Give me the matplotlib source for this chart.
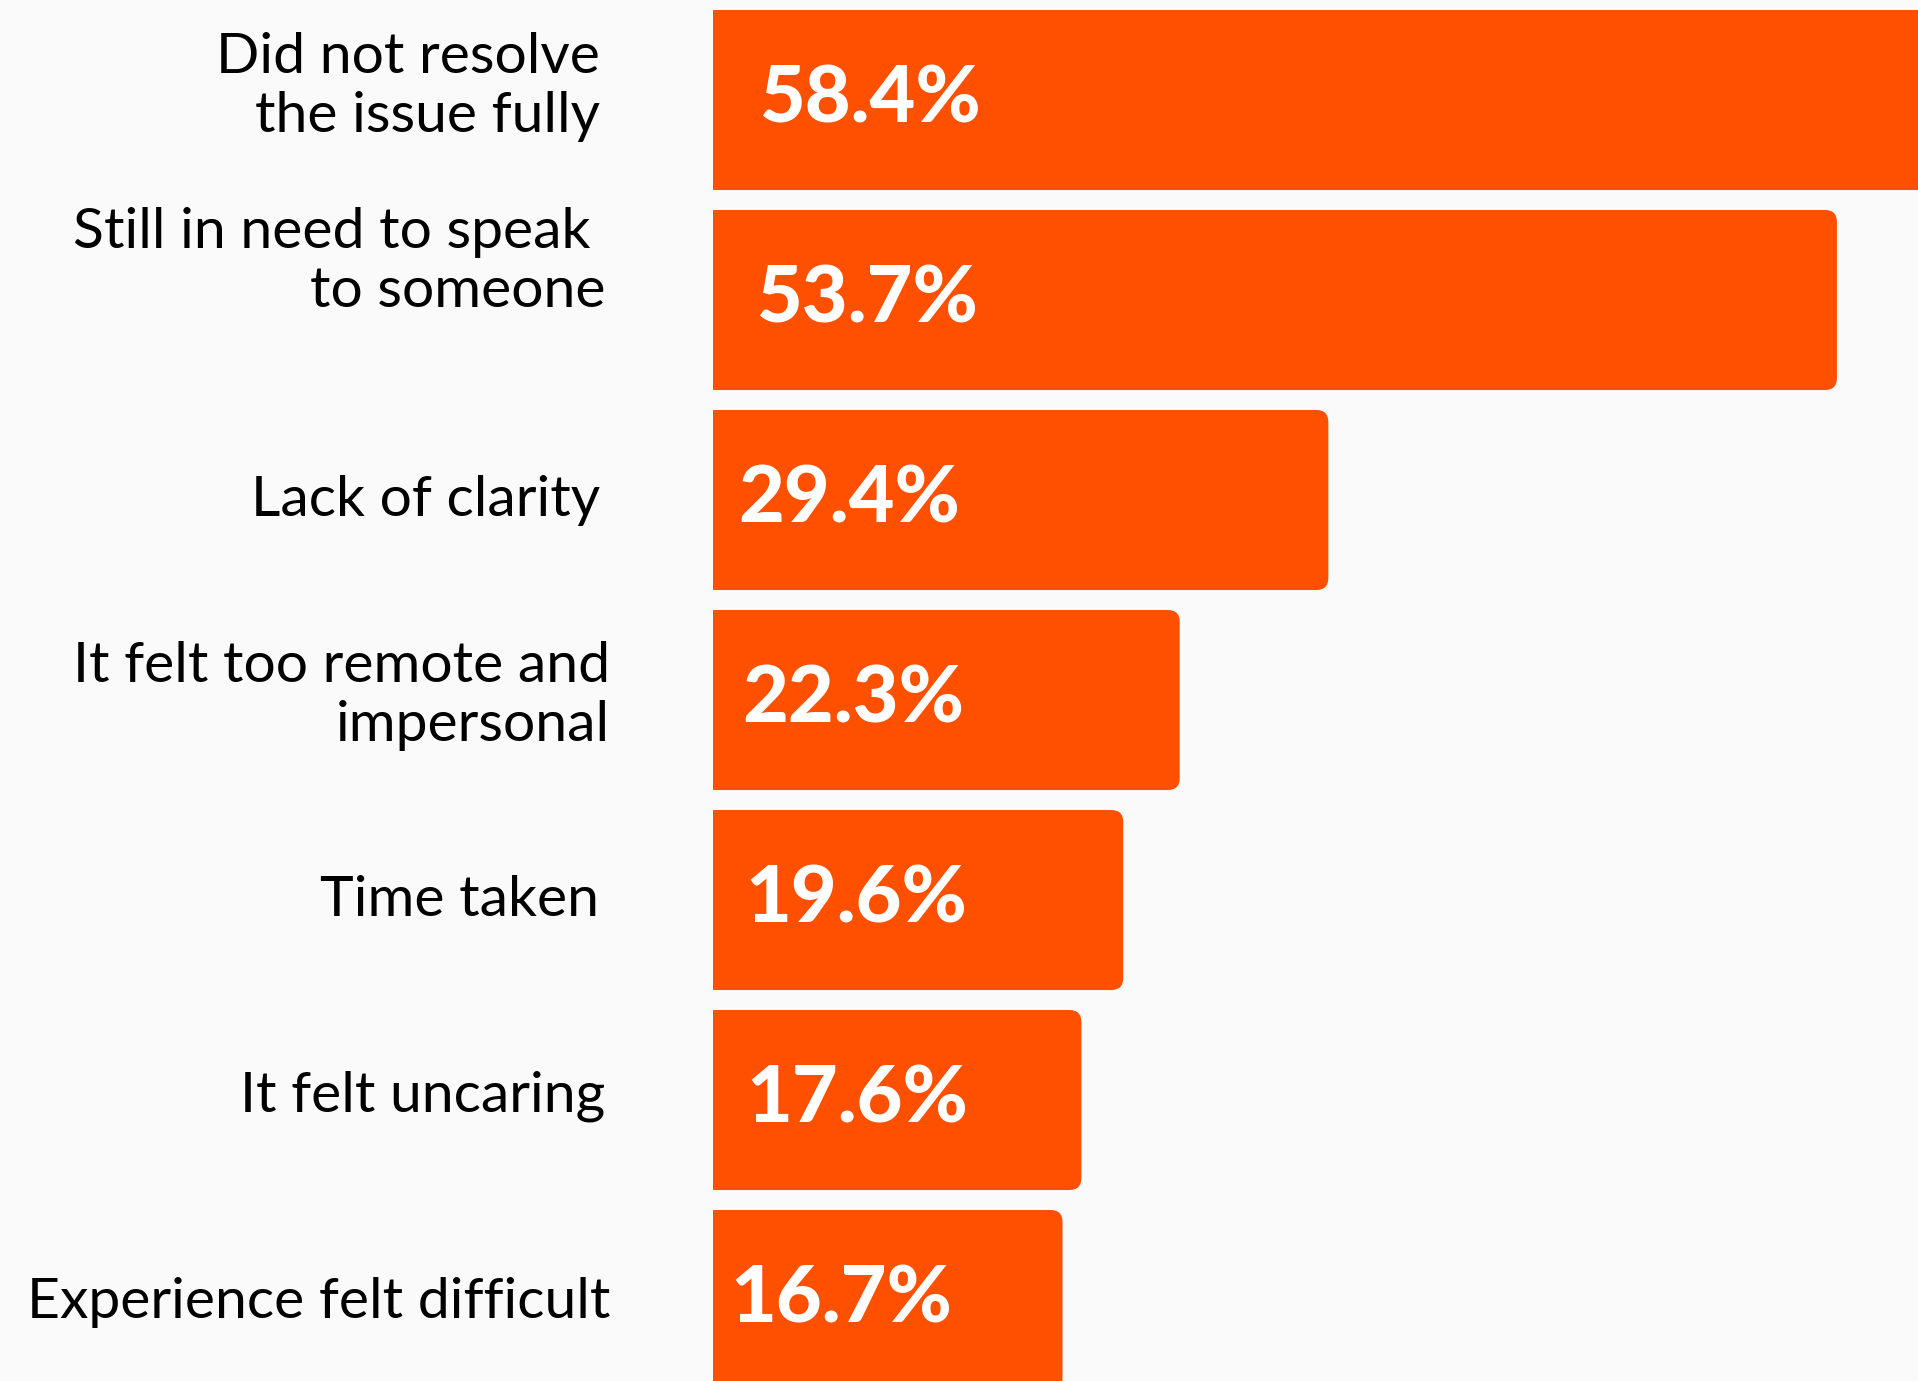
import matplotlib
matplotlib.use("Agg")
import matplotlib.pyplot as plt
import matplotlib.transforms as mtransforms
from matplotlib.patches import FancyBboxPatch

categories = [
    "Did not resolve\nthe issue fully",
    "Still in need to speak \nto someone",
    "Lack of clarity",
    "It felt too remote and\nimpersonal",
    "Time taken",
    "It felt uncaring",
    "Experience felt difficult",
]
values = [58.4, 53.7, 29.4, 22.3, 19.6, 17.6, 16.7]
value_labels = ["58.4%", "53.7%", "29.4%", "22.3%", "19.6%", "17.6%", "16.7%"]

# layout tweaks (pixels) for the labels
label_dx = [-5, 0, -5, 5, -6, 0, 5]
label_dy = [-13, -38, 0, -4, 0, -4, 3]
value_dx = [13, 10, -8, -4, -1, 0, -16]

BG = "#FAFAFA"
BAR = "#FF5000"

W, H = 1918, 1381
fig = plt.figure(figsize=(W / 100, H / 100), dpi=100, facecolor=BG)
ax_left = 713 / W
ax = fig.add_axes([ax_left, 0, 1 - ax_left, 1])
ax.set_facecolor(BG)

px_per_unit_x = 20.93
px_per_unit_y = 200.0
xmax = (W - 713) / px_per_unit_x
ax.set_xlim(0, xmax)
ax.set_ylim((H - 100) / px_per_unit_y, -0.5)
ax.axis("off")

bar_h = 0.9
aspect = (1 / px_per_unit_y) / (1 / px_per_unit_x)
rad = 12 / px_per_unit_x
for i, v in enumerate(values):
    p = FancyBboxPatch((-2, i - bar_h / 2), v + 2, bar_h,
                       boxstyle=f"round,pad=0,rounding_size={rad}",
                       mutation_aspect=aspect, facecolor=BAR, edgecolor="none",
                       clip_on=True)
    ax.add_patch(p)
    ax.text(1.6 + value_dx[i] / px_per_unit_x, i, value_labels[i], color="white",
            fontsize=57, fontfamily="Lato", fontweight="black",
            va="center", ha="left")

blend = mtransforms.blended_transform_factory(fig.transFigure, ax.transData)
for i, c in enumerate(categories):
    xfig = (605 + label_dx[i]) / W
    ax.text(xfig, i + label_dy[i] / px_per_unit_y, c, transform=blend,
            ha="right", va="center", multialignment="right", fontsize=41,
            fontfamily="Lato", fontweight="normal", color="#000000",
            linespacing=1.2, clip_on=False)

fig.savefig("out.png", dpi=100, facecolor=BG)
